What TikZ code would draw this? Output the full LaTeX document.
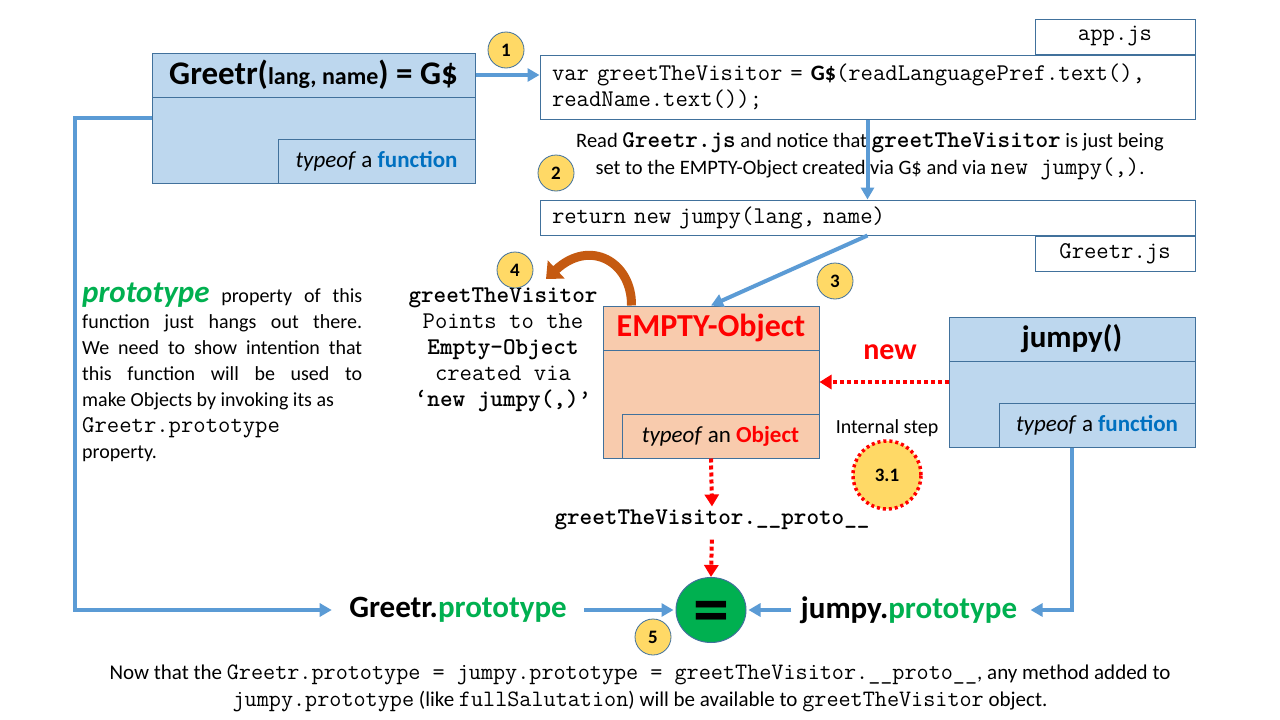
\documentclass[tikz,border=0pt]{standalone}
\usepackage{fontspec}
\setmainfont{Carlito}
\usetikzlibrary{arrows.meta,shapes.geometric}

\definecolor{boxblue}{HTML}{BDD7EE}
\definecolor{boxline}{HTML}{41719C}
\definecolor{linkblue}{HTML}{5B9BD5}
\definecolor{peach}{HTML}{F8CBAD}
\definecolor{stepgold}{HTML}{FFD966}
\definecolor{protogreen}{HTML}{00B050}
\definecolor{funcblue}{HTML}{0070C0}
\definecolor{curlbrown}{HTML}{C55A11}

\newcommand{\sz}[2]{\fontsize{#1}{#2}\selectfont}
\newcommand{\mono}[2][24]{{\ttfamily\fontsize{#1}{27}\selectfont #2}}

\tikzset{
    objbox/.style={draw=boxline, line width=1pt, inner sep=0pt},
    titlerow/.style={objbox, anchor=north, minimum height=44pt, font=\bfseries\sz{31}{31}},
    tagbox/.style={objbox, anchor=south east, minimum height=44pt, font=\sz{23}{23}},
    codebox/.style={draw=boxline, fill=white, line width=1pt, inner xsep=12pt, inner ysep=0pt, font=\ttfamily\sz{24}{26}},
    stepnum/.style={circle, draw=boxline, line width=0.8pt, fill=stepgold, minimum size=36pt, inner sep=0pt, font=\bfseries\sz{19}{19}},
    bluelink/.style={draw=linkblue, line width=4pt, -{Triangle[length=12pt,width=13pt]}},
    redlink/.style={draw=red, line width=4pt, dash pattern=on 4pt off 3pt, -{Triangle[length=12pt,width=14pt]}},
}

\begin{document}
\begin{tikzpicture}[x=1pt, y=-1pt]
        \fill [white] (0,0) rectangle (1280,720);
        \useasboundingbox (0,0) rectangle (1280,720);

        % Greetr box
        \node [objbox, fill=boxblue, minimum width=323pt, minimum height=130pt] (greetr) at (313.5,118) {};
        \node [titlerow, minimum width=323pt, font=\bfseries\sz{33}{33}] (greetrtitle) at (greetr.north) {Greetr(\sz{24}{24}lang, name\sz{33}{33}) = G\$};
        \node [tagbox, minimum width=197pt] (greetrtag) at (greetr.south east) {\textit{typeof} a \textbf{\color{funcblue}function}};

        % code boxes
        \node [codebox, minimum width=655pt, minimum height=64pt, text width=631pt, align=left] (code) at (867.5,87) {var greetTheVisitor = {\rmfamily\bfseries\sz{22}{26}G\$}(readLanguagePref.text(),\\readName.text());};
        \node [codebox, anchor=south east, minimum width=160pt, minimum height=35pt] (appjs) at (code.north east) {app.js};
        \node [codebox, minimum width=655pt, minimum height=35pt, text width=631pt, align=left] (ret) at (867.5,217.5) {return new jumpy(lang, name)};
        \node [codebox, anchor=north east, minimum width=160pt, minimum height=35pt] (greetrjs) at (ret.south east) {Greetr.js};

        \node [align=center, font=\sz{20.5}{27}] (readnote) at (870,156) {Read \mono{\bfseries Greetr.js} and notice that \mono{\bfseries greetTheVisitor} is just being\\set to the EMPTY-Object created via G\$ and via \mono{new jumpy(,)}.};

        % EMPTY-Object box
        \node [objbox, fill=peach, minimum width=216pt, minimum height=152pt] (empty) at (711,382) {};
        \node [titlerow, minimum width=216pt, text=red, font=\bfseries\sz{32}{32}] (emptytitle) at (empty.north) {EMPTY-Object};
        \node [tagbox, minimum width=197pt] (emptytag) at (empty.south east) {\textit{typeof} an \textbf{\color{red}Object}};

        % jumpy box
        \node [objbox, fill=boxblue, minimum width=246pt, minimum height=130pt] (jumpy) at (1072,382) {};
        \node [titlerow, minimum width=246pt] (jumpytitle) at (jumpy.north) {jumpy()};
        \node [tagbox, minimum width=196pt] (jumpytag) at (jumpy.south east) {\textit{typeof} a \textbf{\color{funcblue}function}};

        \node [align=center, font=\ttfamily\sz{24}{26}] (pointsto) at (503,350) {\textbf{greetTheVisitor}\\Points to the\\\textbf{Empty-Object}\\created via\\\textbf{‘new jumpy(,)’}};

        \node [anchor=north west, text width=280pt, align=justify, inner sep=0pt, font=\sz{20}{26}] (protonote) at (82,283) {{\color{protogreen}\bfseries\itshape\sz{31}{26}prototype} property of this\linebreak function just hangs out there.\linebreak We need to show intention that\linebreak this function will be used to\linebreak make Objects by invoking its as\\\mono{Greetr.prototype}\\property.};

        \node [text=red, font=\bfseries\sz{30}{30}] (newlabel) at (890,352) {new};
        \node [font=\sz{20}{20}] (internal) at (887,428) {Internal step};

        \node [font=\ttfamily\bfseries\sz{24}{24}] (proto) at (712,520) {greetTheVisitor.\_\_proto\_\_};
        \node [ellipse, draw=boxline, line width=1pt, fill=protogreen, minimum width=70pt, minimum height=65pt, inner sep=0pt] (eq) at (711,610) {};
        \node [yshift=-7pt, font=\bfseries\sz{72}{72}] (eqsign) at (eq.center) {=};
        \node [font=\bfseries\sz{31}{31}] (gproto) at (458,610) {Greetr.\textcolor{protogreen}{prototype}};
        \node [font=\bfseries\sz{31}{31}] (jproto) at (909,610) {jumpy.\textcolor{protogreen}{prototype}};

        \node [align=center, font=\sz{21}{27}] (summary) at (640,688) {Now that the \mono[23.5]{Greetr.prototype = jumpy.prototype = greetTheVisitor.\_\_proto\_\_}, any method added to\\\mono[23.5]{jumpy.prototype} (like \mono[23.5]{fullSalutation}) will be available to \mono[23.5]{greetTheVisitor} object.};

        % connectors
        \draw [bluelink] (greetrtitle.east) -- (greetrtitle.east -| code.west);
        \draw [bluelink] (code.south) -- (ret.north);
        \draw [bluelink] (ret.south) -- (emptytitle.north);
        \draw [redlink] (jumpy.west) -- (empty.east);
        \draw [redlink] (empty.south) -- (proto.north);
        \draw [redlink, shorten <=6pt] (proto.south) -- (eq.north);
        \draw [bluelink, shorten <=14pt, shorten >=2pt] (gproto.east) -- (eq.west);
        \draw [bluelink, shorten <=6pt, shorten >=2pt] (jproto.west) -- (eq.east);
        \draw [bluelink, shorten >=14pt] (greetr.west) -- ++(-77,0) |- (gproto.west);
        \draw [bluelink, shorten >=10pt] (jumpy.south) |- (jproto.east);

        \coordinate (curlend) at (546,279);
        \draw [draw=curlbrown, line width=9pt, -{Triangle[length=14pt,width=24pt]}] ([xshift=29pt]empty.north west) .. controls (632,262) and (590,238) .. (curlend);

        % step markers
        \node [stepnum] (s1) at (506,50) {1};
        \node [stepnum] (s2) at (556,173) {2};
        \node [stepnum] (s3) at (835,281) {3};
        \node [stepnum] (s4) at (515,270) {4};
        \node [stepnum] (s5) at (653,637) {5};
        \node [stepnum, minimum size=68pt, draw=red, line width=3.5pt, dash pattern=on 3pt off 3pt] (s31) at (887,475) {3.1};
\end{tikzpicture}
\end{document}
